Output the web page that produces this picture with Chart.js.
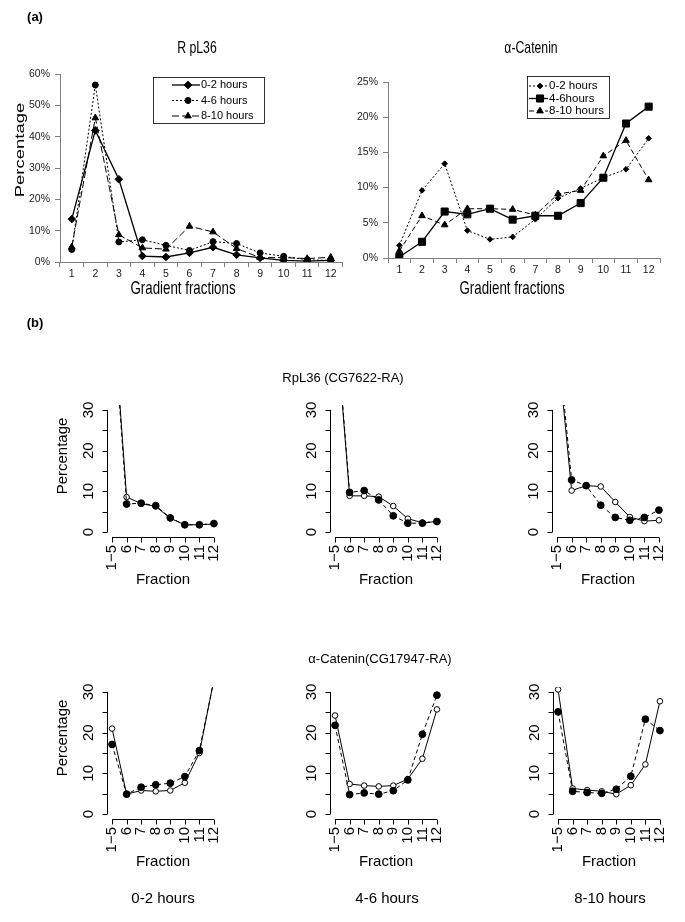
<!DOCTYPE html>
<html>
<head>
<meta charset="utf-8">
<script src="https://cdn.jsdelivr.net/npm/chart.js@4.4.0/dist/chart.umd.min.js"></script>
<style>
body { margin: 0; background: #fff; }
#page { position: relative; width: 685px; height: 922px; overflow: hidden; font-family: "Liberation Sans", Arial, sans-serif; color: #000; }
canvas { position: absolute; left: 0; top: 0; }
.t { position: absolute; white-space: nowrap; transform: translate(-50%, -50%); line-height: 1; }
</style>
</head>
<body>
<div id="page">
  <canvas id="aRpl" width="685" height="922"></canvas>
  <canvas id="aCat" width="685" height="922"></canvas>
  <canvas id="bRpl02" width="685" height="922"></canvas>
  <canvas id="bRpl46" width="685" height="922"></canvas>
  <canvas id="bRpl810" width="685" height="922"></canvas>
  <canvas id="bCat02" width="685" height="922"></canvas>
  <canvas id="bCat46" width="685" height="922"></canvas>
  <canvas id="bCat810" width="685" height="922"></canvas>

  <div class="t" style="left:35px;top:16px;font-size:13px;font-weight:bold">(a)</div>
  <div class="t" style="left:197px;top:47px;font-size:17px;transform:translate(-50%,-50%) scaleX(.72)">R pL36</div>
  <div class="t" style="left:531px;top:47px;font-size:17px;transform:translate(-50%,-50%) scaleX(.72)">&alpha;-Catenin</div>
  <div class="t" style="left:20px;top:150px;font-size:18.5px;transform:translate(-50%,-50%) rotate(-90deg) scaleY(.72)">Percentage</div>
  <div class="t" style="left:183px;top:288px;font-size:18.5px;transform:translate(-50%,-50%) scaleX(.72)">Gradient fractions</div>
  <div class="t" style="left:512px;top:288px;font-size:18.5px;transform:translate(-50%,-50%) scaleX(.72)">Gradient fractions</div>

  <div class="t" style="left:35px;top:322px;font-size:13px;font-weight:bold">(b)</div>
  <div class="t" style="left:343px;top:377px;font-size:13px">RpL36 (CG7622-RA)</div>
  <div class="t" style="left:380px;top:658px;font-size:13px">&alpha;-Catenin(CG17947-RA)</div>
  <div class="t" style="left:163px;top:897px;font-size:15px">0-2 hours</div>
  <div class="t" style="left:387px;top:897px;font-size:15px">4-6 hours</div>
  <div class="t" style="left:610px;top:897px;font-size:15px">8-10 hours</div>
</div>
<script>
// panel (a): percentage of mRNA in each gradient fraction
const gradientFractions = ['1', '2', '3', '4', '5', '6', '7', '8', '9', '10', '11', '12'];
const rpl36Pct0to2 = [13.7, 42.0, 26.4, 1.9, 1.6, 2.9, 4.7, 2.3, 1.3, 0.5, 0.3, 0.5];
const rpl36Pct4to6 = [4.0, 56.5, 6.4, 7.1, 5.3, 3.7, 6.5, 5.9, 2.9, 1.8, 0.7, 0.5];
const rpl36Pct8to10 = [4.8, 46.0, 8.7, 4.5, 4.1, 11.4, 9.6, 4.3, 1.4, 1.4, 1.1, 1.5];
const catPct0to2 = [1.8, 9.6, 13.4, 3.9, 2.65, 3.0, 5.5, 8.5, 9.9, 11.4, 12.6, 17.0];
const catPct4to6 = [0.15, 2.3, 6.6, 6.2, 7.0, 5.45, 6.0, 6.0, 7.8, 11.4, 19.1, 21.5];
const catPct8to10 = [1.0, 6.0, 4.7, 7.0, 7.0, 6.9, 6.1, 9.1, 9.6, 14.5, 16.7, 11.1];
const rpl36PctTicks = [0, 10, 20, 30, 40, 50, 60];
const catPctTicks = [0, 5, 10, 15, 20, 25];

// panel (b): pooled fractions, filled vs open circles
const fractionLabels = ['1\u22125', '6', '7', '8', '9', '10', '11', '12'];
const rpl36Filled02 = [57, 6.9, 7.1, 6.5, 3.5, 1.8, 1.8, 2.1];
const rpl36Open02 = [58, 8.6, 7.0, 6.3, 3.4, 1.8, 1.8, 2.0];
const rpl36Filled46 = [55, 9.75, 10.2, 7.9, 4.0, 2.2, 2.2, 2.6];
const rpl36Open46 = [54, 8.9, 8.9, 8.7, 6.4, 3.3, 2.3, 2.6];
const rpl36Filled810 = [49, 12.8, 11.4, 6.6, 3.6, 2.9, 3.6, 5.4];
const rpl36Open810 = [47, 10.2, 11.4, 11.2, 7.4, 3.7, 2.7, 2.9];
const catFilled02 = [17.1, 4.9, 6.6, 7.2, 7.6, 9.2, 15.6, 33];
const catOpen02 = [21.0, 4.9, 5.8, 5.6, 5.8, 7.7, 15.0, 33];
const catFilled46 = [21.8, 4.8, 5.2, 4.9, 5.75, 8.4, 19.6, 29.2];
const catOpen46 = [24.2, 7.4, 7.0, 6.8, 7.0, 8.6, 13.6, 25.7];
const catFilled810 = [25.1, 5.6, 5.3, 5.1, 6.1, 9.3, 23.3, 20.5];
const catOpen810 = [30.6, 6.3, 5.9, 5.6, 4.9, 7.1, 12.2, 27.7];
const pctTicksB = [0, 5, 10, 15, 20, 25, 30];
const pctLabelsB = [0, 10, 20, 30];

const FONT = '"Liberation Sans", Arial, sans-serif';
Chart.defaults.font.family = FONT;
Chart.defaults.color = '#222';

// boxed legend drawn from the datasets' own styles
const boxLegend = {
  id: 'boxLegend',
  afterDraw(chart, args, o) {
    if (!o.box) return;
    const ctx = chart.ctx;
    const [bx, by, bw, bh] = o.box;
    ctx.save();
    ctx.fillStyle = '#fff';
    ctx.fillRect(bx, by, bw, bh);
    ctx.save();
    ctx.beginPath();
    ctx.rect(bx, by, bw, bh);
    ctx.clip();
    chart.data.datasets.forEach((ds, i) => {
      const ry = o.rows[i];
      ctx.strokeStyle = '#000';
      ctx.lineWidth = ds.borderWidth;
      ctx.setLineDash(ds.borderDash || []);
      ctx.beginPath();
      ctx.moveTo(o.sample[0], ry);
      ctx.lineTo(o.sample[1], ry);
      ctx.stroke();
      ctx.setLineDash([]);
      ctx.fillStyle = '#000';
      ctx.lineWidth = 1;
      Chart.helpers.drawPoint(ctx, { pointStyle: ds.pointStyle, radius: ds.pointRadius, rotation: 0, borderWidth: 1 },
        o.marker, ry);
      ctx.font = o.fontSize + 'px ' + FONT;
      ctx.textBaseline = 'middle';
      ctx.fillText(ds.label, o.text, ry);
    });
    ctx.restore();
    ctx.strokeStyle = '#000';
    ctx.lineWidth = 0.8;
    ctx.strokeRect(bx + 0.5, by + 0.5, bw, bh);
    ctx.restore();
  }
};

// R-style detached axes for panel (b)
const rAxes = {
  id: 'rAxes',
  afterDraw(chart, args, o) {
    if (!o.on) return;
    const { ctx, chartArea: a, scales: { x, y } } = chart;
    ctx.save();
    ctx.strokeStyle = '#000';
    ctx.fillStyle = '#000';
    ctx.lineWidth = 1;
    const L = Math.round(a.left) - 0.5, B = Math.round(a.bottom) + 0.5;
    ctx.beginPath();
    ctx.moveTo(L, y.getPixelForValue(pctTicksB[0]));
    ctx.lineTo(L, y.getPixelForValue(pctTicksB[pctTicksB.length - 1]));
    pctTicksB.forEach(v => {
      const py = Math.round(y.getPixelForValue(v)) + 0.5;
      ctx.moveTo(L, py);
      ctx.lineTo(L - 5, py);
    });
    ctx.moveTo(x.getPixelForValue(1), B);
    ctx.lineTo(x.getPixelForValue(fractionLabels.length), B);
    fractionLabels.forEach((l, i) => {
      const px = Math.round(x.getPixelForValue(i + 1)) + 0.5;
      ctx.moveTo(px, B);
      ctx.lineTo(px, B + 5);
    });
    ctx.stroke();

    ctx.font = '15px ' + FONT;
    ctx.textBaseline = 'middle';
    pctLabelsB.forEach(v => {
      ctx.save();
      ctx.translate(a.left - 19, y.getPixelForValue(v));
      ctx.rotate(-Math.PI / 2);
      ctx.textAlign = 'center';
      ctx.fillText(String(v), 0, 0);
      ctx.restore();
    });
    fractionLabels.forEach((l, i) => {
      ctx.save();
      ctx.translate(x.getPixelForValue(i + 1), a.bottom + 8);
      ctx.rotate(-Math.PI / 2);
      ctx.textAlign = 'right';
      ctx.fillText(l, 0, 0);
      ctx.restore();
    });
    ctx.textAlign = 'center';
    ctx.fillText('Fraction', x.getPixelForValue((1 + fractionLabels.length) / 2), a.bottom + 43);
    if (o.yTitle) {
      ctx.save();
      ctx.translate(a.left - 45, a.top + 51);
      ctx.rotate(-Math.PI / 2);
      ctx.fillText('Percentage', 0, 0);
      ctx.restore();
    }
    ctx.restore();
  }
};

Chart.register(boxLegend, rAxes);

function excelAxes(ticks, max) {
  const axisGrid = { drawOnChartArea: false, drawTicks: true, tickLength: 5, color: '#7f7f7f', lineWidth: 1 };
  return {
    x: {
      type: 'category', offset: true,
      grid: Object.assign({ offset: true }, axisGrid),
      border: { color: '#7f7f7f' },
      ticks: { font: { size: 10.5 }, padding: 1, maxRotation: 0, autoSkip: false },
      afterFit: s => { s.height = 20; }
    },
    y: {
      min: 0, max: max,
      grid: axisGrid,
      border: { color: '#7f7f7f' },
      afterBuildTicks: s => { s.ticks = ticks.map(v => ({ value: v })); },
      ticks: { font: { size: 10.5 }, padding: 5, callback: v => v + '%' },
      afterFit: s => { s.width = 40; }
    }
  };
}

function excelLine(label, data, dash, style, r, width) {
  return {
    label: label, data: data, borderColor: '#000', borderWidth: width || 1, borderDash: dash,
    pointStyle: style, pointRadius: r, pointBackgroundColor: '#000', pointBorderColor: '#000',
    pointBorderWidth: 1, tension: 0, fill: false
  };
}

// (a) RpL36
new Chart(document.getElementById('aRpl'), {
  type: 'line',
  data: {
    labels: gradientFractions,
    datasets: [
      excelLine('0-2 hours', rpl36Pct0to2, [], 'rectRot', 3.8, 1.3),
      excelLine('4-6 hours', rpl36Pct4to6, [2, 2], 'circle', 3),
      excelLine('8-10 hours', rpl36Pct8to10, [7, 3], 'triangle', 3.8)
    ]
  },
  options: {
    responsive: false, animation: false, events: [],
    layout: { padding: { left: 20, top: 74, right: 342.5, bottom: 640 } },
    scales: excelAxes(rpl36PctTicks, 60),
    plugins: {
      legend: { display: false }, tooltip: { enabled: false },
      boxLegend: { box: [153, 77, 111, 46], rows: [85, 100.5, 116], sample: [172, 200], marker: 188, text: 201, fontSize: 11 }
    }
  }
});

// (a) alpha-Catenin
new Chart(document.getElementById('aCat'), {
  type: 'line',
  data: {
    labels: gradientFractions,
    datasets: [
      excelLine('0-2 hours', catPct0to2, [2, 2], 'rectRot', 2.8),
      excelLine('4-6hours', catPct4to6, [], 'rect', 5, 1.3),
      excelLine('8-10 hours', catPct8to10, [5, 3], 'triangle', 3.8)
    ]
  },
  options: {
    responsive: false, animation: false, events: [],
    layout: { padding: { left: 348, top: 82, right: 25, bottom: 644 } },
    scales: excelAxes(catPctTicks, 25),
    plugins: {
      legend: { display: false }, tooltip: { enabled: false },
      boxLegend: { box: [527, 76, 82, 42], rows: [86, 98.5, 111], sample: [529, 548], marker: 540, text: 549, fontSize: 11.5 }
    }
  }
});

// (b) small multiples
function rChart(id, filled, open, left, top, yTitle) {
  const pts = arr => arr.map((v, i) => ({ x: i + 1, y: v }));
  new Chart(document.getElementById(id), {
    type: 'line',
    data: {
      datasets: [
        { data: pts(filled), borderColor: '#000', borderWidth: 1, borderDash: [4, 3], pointRadius: 3.4,
          pointBackgroundColor: '#000', pointBorderColor: '#000', tension: 0, clip: { left: 8, right: 8, top: 0, bottom: 8 } },
        { data: pts(open), borderColor: '#000', borderWidth: 1, pointRadius: 2.8, pointBorderWidth: 1,
          pointBackgroundColor: '#fff', pointBorderColor: '#000', tension: 0, clip: { left: 8, right: 8, top: 0, bottom: 8 } }
      ]
    },
    options: {
      responsive: false, animation: false, events: [],
      layout: { padding: { left: left, top: top, right: 685 - left - 110, bottom: 922 - top - 132 } },
      scales: {
        x: { type: 'linear', display: false, min: 0.72, max: fractionLabels.length + 0.28 },
        y: { display: false, min: -1.2, max: 31.2 }
      },
      plugins: { legend: { display: false }, tooltip: { enabled: false }, rAxes: { on: true, yTitle: yTitle } }
    }
  });
}

rChart('bRpl02', rpl36Filled02, rpl36Open02, 108, 405, true);
rChart('bRpl46', rpl36Filled46, rpl36Open46, 331, 405, false);
rChart('bRpl810', rpl36Filled810, rpl36Open810, 553, 405, false);
rChart('bCat02', catFilled02, catOpen02, 108, 687, true);
rChart('bCat46', catFilled46, catOpen46, 331, 687, false);
rChart('bCat810', catFilled810, catOpen810, 554, 687, false);
</script>
</body>
</html>
